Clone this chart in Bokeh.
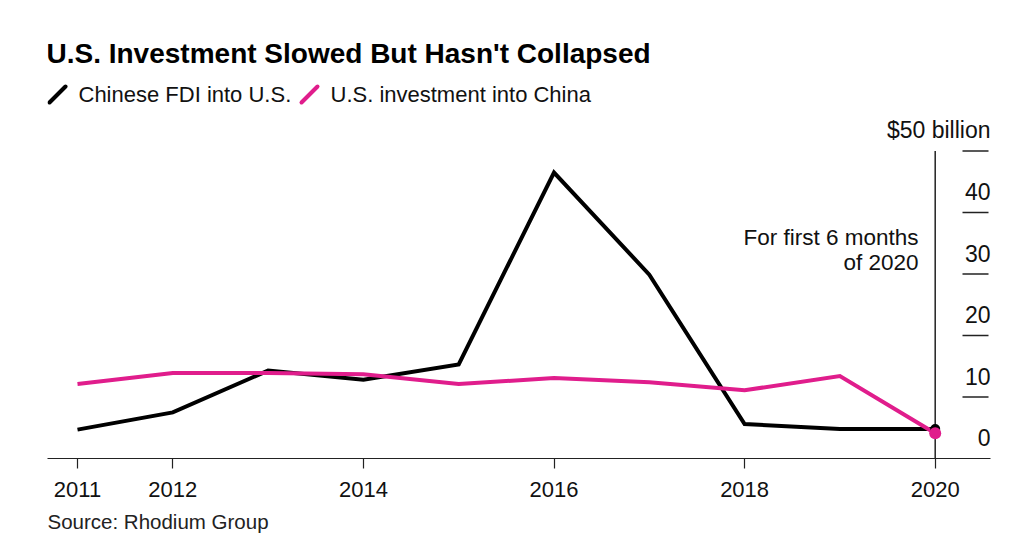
from bokeh.plotting import figure
from bokeh.models import ColumnDataSource, FixedTicker, Title, Range1d
from bokeh.core.properties import value
from bokeh.embed import file_html
from bokeh.resources import INLINE

# ---- data ----
years = [2011, 2012, 2013, 2014, 2015, 2016, 2017, 2018, 2019, 2020]
chinese_fdi_into_us = [4.7, 7.5, 14.3, 12.8, 15.3, 46.5, 29.9, 5.6, 4.8, 4.8]
us_investment_into_china = [12.1, 13.9, 13.9, 13.7, 12.1, 13.1, 12.4, 11.1, 13.4, 4.1]
x_ticks = [2011, 2012, 2014, 2016, 2018, 2020]
y_ticks = [0, 10, 20, 30, 40, 50]
y_tick_labels = ["0", "10", "20", "30", "40", "$50 billion"]
title_text = "U.S. Investment Slowed But Hasn't Collapsed"
series_names = ["Chinese FDI into U.S.", "U.S. investment into China"]
note_lines = ["For first 6 months", "of 2020"]
source_text = "Source: Rhodium Group"

BLACK = "#000000"
PINK = "#E01D8C"
AXIS = "#222222"
FONT = "Liberation Sans"

# ---- geometry (screen pixel -> data helpers) ----
W, H = 1008, 543
FRAME_L, FRAME_R = 47, 990      # x
FRAME_T, FRAME_B = 0, 458       # y
X0_PX, X_PER = 77.0, 95.3       # 2011 at x 77
Y_PER = 6.15                    # px per unit, 0 at y 458


def px(xp):
    return 2011 + (xp - X0_PX) / X_PER


def py(yp):
    return (FRAME_B - yp) / Y_PER


p = figure(width=W, height=H, output_backend="svg", toolbar_location=None,
           x_range=Range1d(px(FRAME_L), px(FRAME_R)),
           y_range=Range1d(0, py(FRAME_T)),
           y_axis_location=None,
           min_border_left=FRAME_L, min_border_right=W - FRAME_R,
           min_border_top=0, min_border_bottom=H - FRAME_B)
p.outline_line_color = None
p.grid.visible = False
p.background_fill_color = "white"
p.border_fill_color = "white"

# x axis
ax = p.xaxis[0]
ax.ticker = FixedTicker(ticks=x_ticks)
ax.axis_line_color = AXIS
ax.axis_line_width = 1.2
ax.major_tick_line_color = AXIS
ax.major_tick_line_width = 1.2
ax.major_tick_out = 10
ax.major_tick_in = 0
ax.minor_tick_line_color = None
ax.major_label_text_font = FONT
ax.major_label_text_font_size = "22px"
ax.major_label_text_color = "#111111"
ax.major_label_standoff = 13

# vertical 2020 line
p.segment(x0=[2020], y0=[0], x1=[2020], y1=[y_ticks[-1]], line_color=AXIS, line_width=1.5)

# right-hand tick dashes and labels
p.segment(x0=[px(962)] * 5, y0=y_ticks[1:], x1=[px(988)] * 5, y1=y_ticks[1:],
          line_color=AXIS, line_width=1.5)
p.text(x=[px(990)] * len(y_ticks), y=y_ticks, text=y_tick_labels,
       text_align="right", text_baseline="middle", y_offset=-21,
       text_font=value(FONT), text_font_size="23px", text_color="#111111")

# series
src = ColumnDataSource(dict(x=years, fdi=chinese_fdi_into_us, us=us_investment_into_china))
p.line("x", "fdi", source=src, line_color=BLACK, line_width=4, line_join="miter")
p.line("x", "us", source=src, line_color=PINK, line_width=4, line_join="miter")
p.scatter(x=[years[-1]], y=[chinese_fdi_into_us[-1]], size=10, fill_color=BLACK, line_color=None)
p.scatter(x=[years[-1]], y=[us_investment_into_china[-1]], size=12, fill_color=PINK, line_color=None)

# annotation
p.text(x=[px(918)] * 2, y=[py(237), py(262)], text=note_lines,
       text_align="right", text_baseline="middle",
       text_font=value(FONT), text_font_size="22.5px", text_color="#111111")

# title
p.text(x=[px(46)], y=[py(53)], text=[title_text], text_align="left", text_baseline="middle",
       text_font=value(FONT), text_font_size="28px", text_font_style="bold", text_color="#000000")

# legend
p.segment(x0=[px(49), px(301)], y0=[py(102), py(102)], x1=[px(65), px(317)], y1=[py(86), py(86)],
          line_color=[BLACK, PINK], line_width=4, line_cap="round")
p.text(x=[px(78), px(330)], y=[py(94), py(94)], text=series_names,
       text_align="left", text_baseline="middle",
       text_font=value(FONT), text_font_size="22px", text_color="#111111")

# source
p.add_layout(Title(text=source_text, align="left", text_font=FONT, text_font_size="20.5px",
                   text_font_style="normal", text_color="#222222", standoff=16), "below")

open("out.html", "w").write(file_html(p, INLINE))
